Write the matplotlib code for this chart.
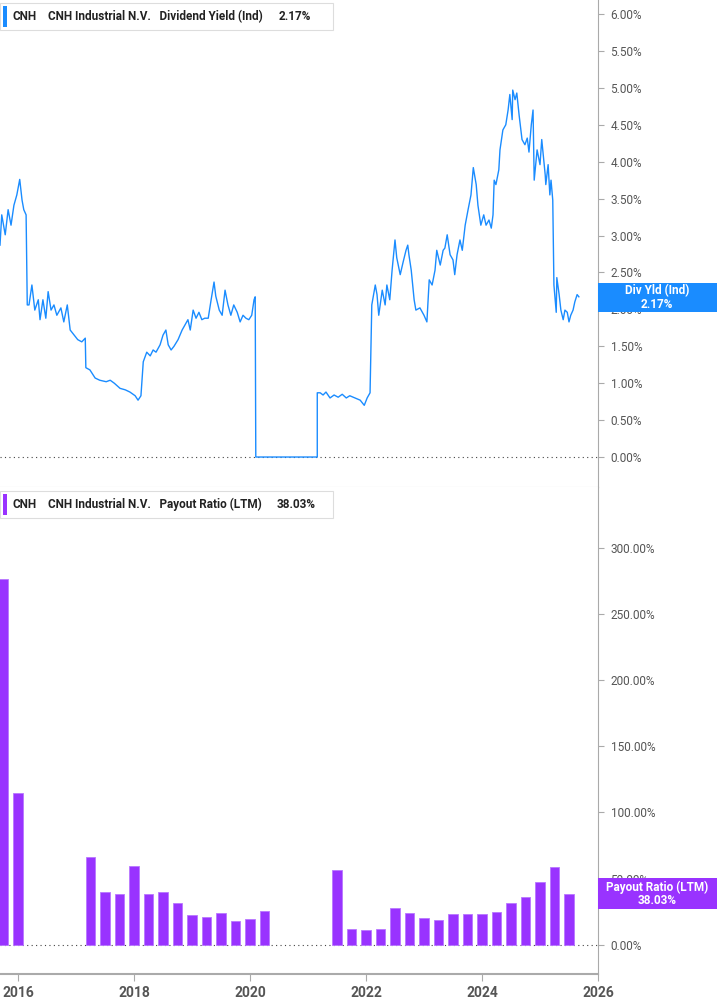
import matplotlib
matplotlib.use("Agg")
import matplotlib.pyplot as plt
from matplotlib.patches import Rectangle

plt.rcParams["font.family"] = "Roboto"

# Dividend yield trace: (year, %)
yield_points = [
 (2015.69,2.87),(2015.72,3.28),(2015.78,3.01),(2015.83,3.35),(2015.88,3.14),(2015.93,3.41),(2015.98,3.55),
 (2016.03,3.76),(2016.07,3.48),(2016.10,3.35),(2016.14,3.28),(2016.16,2.06),(2016.19,2.06),(2016.24,2.33),
 (2016.29,1.99),(2016.35,2.13),(2016.38,1.86),(2016.43,2.13),(2016.48,1.88),(2016.52,2.24),(2016.57,1.99),
 (2016.62,2.06),(2016.67,1.92),(2016.74,2.02),(2016.79,1.83),(2016.85,2.06),(2016.90,1.72),(2016.97,1.65),
 (2017.03,1.59),(2017.10,1.56),(2017.16,1.61),(2017.17,1.21),(2017.24,1.18),(2017.33,1.07),(2017.41,1.04),
 (2017.52,1.02),(2017.59,1.04),(2017.66,1.00),(2017.76,0.93),(2017.85,0.91),(2017.93,0.88),(2018.02,0.83),
 (2018.07,0.77),(2018.12,0.83),(2018.16,1.29),(2018.22,1.42),(2018.28,1.37),(2018.33,1.45),(2018.38,1.42),
 (2018.45,1.52),(2018.50,1.65),(2018.55,1.72),(2018.59,1.52),(2018.64,1.45),(2018.69,1.50),(2018.76,1.59),
 (2018.83,1.72),(2018.88,1.79),(2018.93,1.86),(2018.97,1.72),(2019.02,1.99),(2019.07,1.88),(2019.12,1.96),
 (2019.17,1.86),(2019.22,1.88),(2019.28,1.88),(2019.33,2.13),(2019.38,2.37),(2019.41,2.18),(2019.47,1.99),
 (2019.52,1.92),(2019.57,2.26),(2019.62,2.06),(2019.67,1.92),(2019.72,2.06),(2019.78,1.96),(2019.83,1.83),
 (2019.88,1.92),(2019.93,1.88),(2019.98,1.86),(2020.03,1.92),(2020.07,2.13),(2020.09,2.17),(2020.10,0.0),
 (2021.16,0.0),(2021.16,0.87),(2021.21,0.87),(2021.26,0.84),(2021.31,0.88),(2021.38,0.80),(2021.45,0.84),
 (2021.52,0.81),(2021.59,0.85),(2021.66,0.80),(2021.72,0.83),(2021.81,0.80),(2021.90,0.77),(2021.97,0.70),
 (2022.02,0.80),(2022.07,0.87),(2022.10,2.06),(2022.16,2.33),(2022.19,2.20),(2022.22,1.92),(2022.28,2.26),
 (2022.33,2.06),(2022.36,2.33),(2022.41,2.13),(2022.45,2.53),(2022.50,2.94),(2022.53,2.70),(2022.59,2.47),
 (2022.64,2.64),(2022.69,2.80),(2022.72,2.87),(2022.74,2.74),(2022.78,2.53),(2022.83,2.13),(2022.86,1.99),
 (2022.93,2.02),(2023.00,1.92),(2023.05,1.83),(2023.09,2.40),(2023.14,2.33),(2023.19,2.53),(2023.22,2.80),
 (2023.28,2.60),(2023.33,2.80),(2023.36,2.83),(2023.40,3.01),(2023.45,2.74),(2023.50,2.67),(2023.53,2.47),
 (2023.57,2.74),(2023.62,2.94),(2023.66,2.80),(2023.71,3.14),(2023.76,3.35),(2023.81,3.55),(2023.85,3.92),
 (2023.90,3.69),(2023.93,3.41),(2023.98,3.14),(2024.03,3.28),(2024.07,3.14),(2024.12,3.21),(2024.16,3.10),
 (2024.19,3.28),(2024.21,3.75),(2024.24,3.69),(2024.29,3.89),(2024.31,4.16),(2024.36,4.43),(2024.41,4.50),
 (2024.45,4.70),(2024.48,4.91),(2024.52,4.57),(2024.53,4.97),(2024.57,4.84),(2024.60,4.93),(2024.64,4.63),
 (2024.69,4.30),(2024.74,4.23),(2024.78,4.32),(2024.81,4.13),(2024.85,4.50),(2024.88,4.70),(2024.90,3.75),
 (2024.95,4.16),(2025.00,3.96),(2025.03,4.30),(2025.09,3.82),(2025.10,3.69),(2025.14,3.96),(2025.17,3.55),
 (2025.19,3.75),(2025.22,3.48),(2025.24,2.33),(2025.28,1.96),(2025.29,2.43),(2025.33,2.20),(2025.36,1.99),
 (2025.40,1.86),(2025.43,1.99),(2025.47,1.96),(2025.50,1.83),(2025.53,1.92),(2025.57,1.99),(2025.60,2.10),
 (2025.64,2.20),(2025.67,2.17),
]
yield_dates = [p[0] for p in yield_points]
yield_vals = [p[1] for p in yield_points]

# Payout ratio (LTM), quarterly
payout_dates = [2015.75, 2016.0,
 2017.25,2017.5,2017.75,2018.0,2018.25,2018.5,2018.75,2019.0,2019.25,2019.5,2019.75,2020.0,2020.25,
 2021.5,2021.75,2022.0,2022.25,2022.5,2022.75,2023.0,2023.25,2023.5,2023.75,2024.0,2024.25,2024.5,2024.75,2025.0,2025.25,2025.5]
payout_vals = [276.6, 115.0,
 66.5,39.6,38.1,59.5,38.1,39.7,31.3,22.2,20.9,24.0,17.9,19.4,25.5,
 56.2,11.6,10.9,11.6,27.7,24.0,20.2,18.9,23.0,23.0,23.0,24.5,31.3,35.8,47.4,58.5,38.03]

yield_ticks = [0, 0.5, 1, 1.5, 2, 2.5, 3, 3.5, 4, 4.5, 5, 5.5, 6]
payout_ticks = [0, 50, 100, 150, 200, 250, 300]
year_ticks = [2016, 2018, 2020, 2022, 2024, 2026]

W, H = 717, 1005
fig = plt.figure(figsize=(W/100, H/100), dpi=100)

def ax_px(x0, y0, x1, y1):
    return fig.add_axes([x0/W, 1-y1/H, (x1-x0)/W, (y1-y0)/H])

XL = (2015.69, 2026.0)
blue = "#1a8cff"
purple = "#9933ff"
gray = "#555555"

ax1 = ax_px(0, 0, 598, 487)
ax1.plot(yield_dates, yield_vals, color=blue, lw=1.0)
ax1.set_xlim(*XL)
ax1.set_ylim(-0.406, 6.19)
ax1.axhline(0, color="#444444", lw=0.8, ls=(0, (1, 3)), zorder=0)

ax2 = ax_px(0, 487, 598, 974)
ax2.bar(payout_dates, payout_vals, width=0.17, color=purple, edgecolor="#b877ff", linewidth=0.6)
ax2.set_xlim(*XL)
ax2.set_ylim(-22.1, 346)
ax2.axhline(0, color="#444444", lw=0.8, ls=(0, (1, 3)), zorder=0)

for ax, ticks in [(ax1, yield_ticks), (ax2, payout_ticks)]:
    for s in ["left", "top"]:
        ax.spines[s].set_visible(False)
    ax.spines["right"].set_color("#aaaaaa")
    ax.yaxis.tick_right()
    ax.set_yticks(ticks)
    ax.set_yticklabels(["{:.2f}%".format(t) for t in ticks], fontsize=8.5, color=gray)
    ax.tick_params(axis="y", length=4, color="#aaaaaa", pad=5)

ax1.set_xticks([])
ax1.spines["bottom"].set_color("#cccccc")
ax2.set_xticks(year_ticks)
ax2.set_xticklabels([str(y) for y in year_ticks], fontsize=10, fontweight="bold", color=gray)
ax2.tick_params(axis="x", length=5, color="#aaaaaa")
ax2.spines["bottom"].set_color("#aaaaaa")
ax2.spines["bottom"].set_linewidth(1.5)

def box(x0, y0, x1, y1, fc, ec="none", lw=0.8):
    fig.add_artist(Rectangle((x0/W, 1-y1/H), (x1-x0)/W, (y1-y0)/H, transform=fig.transFigure,
                             facecolor=fc, edgecolor=ec, lw=lw))

def txt(x, y, s, **kw):
    fig.text(x/W, 1-y/H, s, va="center", **kw)

box(0, 3, 333, 30, "white", "#dddddd")
box(3, 6, 7, 27, blue)
txt(13, 16.5, "CNH", fontsize=8.5, fontweight="bold", color="#222222")
txt(48, 16.5, "CNH Industrial N.V.   Dividend Yield (Ind)", fontsize=8.5, fontweight="bold", color="#222222")
txt(279, 16.5, "2.17%", fontsize=8.5, fontweight="bold", color="#222222")

box(0, 491, 333, 518, "white", "#dddddd")
box(3, 494, 7, 515, purple)
txt(13, 504.5, "CNH", fontsize=8.5, fontweight="bold", color="#222222")
txt(48, 504.5, "CNH Industrial N.V.   Payout Ratio (LTM)", fontsize=8.5, fontweight="bold", color="#222222")
txt(277, 504.5, "38.03%", fontsize=8.5, fontweight="bold", color="#222222")

box(598, 283, 717, 312, blue)
fig.text(657/W, 1-297.5/H, "Div Yld (Ind)\n2.17%", ha="center", va="center", fontsize=8.5,
         color="white", fontweight="bold", linespacing=1.0)
box(598, 878, 717, 909, purple)
fig.text(657/W, 1-893.5/H, "Payout Ratio (LTM)\n38.03%", ha="center", va="center", fontsize=8.5,
         color="white", fontweight="bold", linespacing=1.0)

fig.savefig("out.png", dpi=100, facecolor="white")
